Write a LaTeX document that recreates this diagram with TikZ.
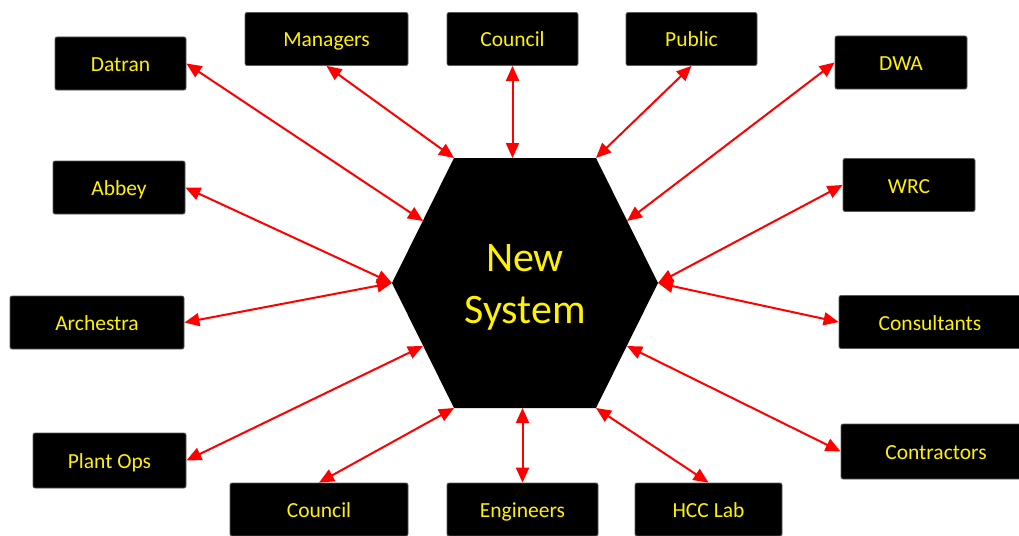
\documentclass[tikz,border=0pt]{standalone}
\usepackage{fontspec}
\setmainfont{Carlito}
\usetikzlibrary{arrows.meta,positioning}
\definecolor{boxline}{RGB}{90,90,90}

\begin{document}
\begin{tikzpicture}
          [x=1pt,y=-1pt,
            every node/.style={rectangle,draw=boxline,line width=0.8pt,fill=black,rounded corners=2pt,
              text=yellow,font=\fontsize{21.5}{25}\selectfont,minimum height=53,text height=18pt,text depth=2pt},
            hub/.style={draw=none,fill=none,text=yellow,align=center,text height=,text depth=,
              font=\fontsize{42}{52}\selectfont},
            link/.style={draw=red,line width=2pt,{Triangle[length=15pt,width=13pt]}-{Triangle[length=15pt,width=13pt]}},
          ]
          \useasboundingbox (0,0) rectangle (1019,535);

          % the hexagon
          \coordinate (hl) at (392,283);  \coordinate (htl) at (454,158);
          \coordinate (htr) at (596,158); \coordinate (hr) at (658,283);
          \coordinate (hbr) at (596,408); \coordinate (hbl) at (454,408);
          \coordinate (hul) at (423,221); \coordinate (hll) at (423,346);
          \coordinate (hur) at (627,221); \coordinate (hlr) at (627,346);
          \fill (hl) -- (htl) -- (htr) -- (hr) -- (hbr) -- (hbl) -- cycle;
          \node[hub] (newsys) at (525,287) {New\\System};

          % top row
          \node[minimum width=131] (datran) at (120.5,63.5) {Datran};
          \node[minimum width=163] (managers) at (326.5,39) {Managers};
          \node[minimum width=131] (counciltop) at (512.5,39) {Council};
          \node[minimum width=131] (public) at (691.5,39) {Public};
          \node[minimum width=132] (dwa) at (901,62.5) {DWA};
          % sides
          \node[minimum width=132] (abbey) at (119,187.5) {Abbey};
          \node[minimum width=132] (wrc) at (909,185) {WRC};
          \node[minimum width=174] (archestra) at (97,322.5) {Archestra};
          \node[minimum width=182] (consultants) at (930,322) {Consultants};
          \node[minimum width=153,minimum height=55] (plantops) at (109.5,460.5) {Plant Ops};
          \node[minimum width=190,minimum height=55] (contractors) at (936,451.5) {Contractors};
          % bottom row
          \node[minimum width=178] (councilbot) at (319,509.5) {Council};
          \node[minimum width=151] (engineers) at (522.5,509.5) {Engineers};
          \node[minimum width=147] (hcclab) at (708.5,509.5) {HCC Lab};

          \draw[link] (datran.east) -- (hul);
          \draw[link] (managers.south) -- (htl);
          \draw[link] (counciltop.south) -- (counciltop.south |- htl);
          \draw[link] (public.south) -- (htr);
          \draw[link] (dwa.west) -- (hur);
          \draw[link] (abbey.east) -- (hl);
          \draw[link] (wrc.west) -- (hr);
          \draw[link] (archestra.east) -- (hl);
          \draw[link] (consultants.west) -- (hr);
          \draw[link] (plantops.east) -- (hll);
          \draw[link] (contractors.west) -- (hlr);
          \draw[link] (councilbot.north) -- (hbl);
          \draw[link] (engineers.north) -- (engineers.north |- hbl);
          \draw[link] (hcclab.north) -- (hbr);
        \end{tikzpicture}
\end{document}
